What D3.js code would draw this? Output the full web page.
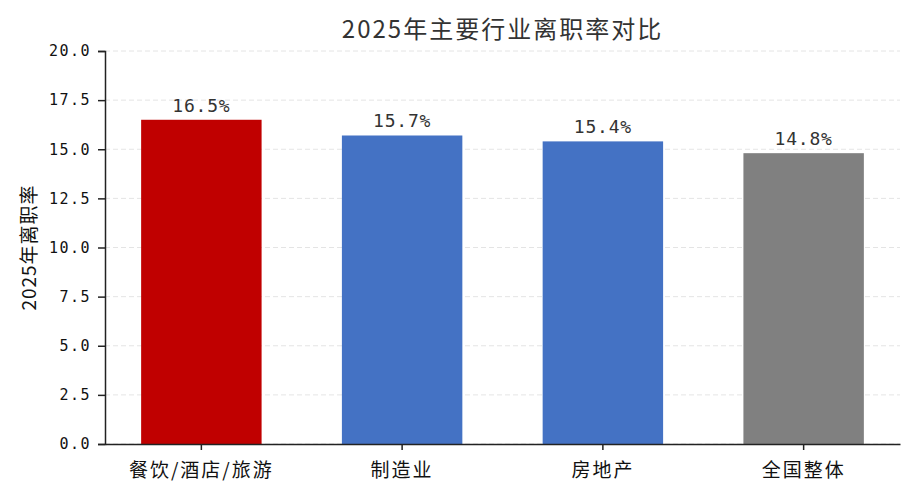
<!DOCTYPE html>
<html>
<head>
<meta charset="utf-8">
<script src="https://cdn.jsdelivr.net/npm/d3@7"></script>
<style>
  body { margin: 0; background: #fff; }
  svg text { font-family: "Noto Sans CJK SC", "DejaVu Sans", sans-serif; }
  svg text.num { font-family: "DejaVu Sans Mono", "Liberation Mono", monospace; }
</style>
</head>
<body>
<div id="chart"></div>
<script>
const categories = ["餐饮/酒店/旅游", "制造业", "房地产", "全国整体"];
const rates = [16.5, 15.7, 15.4, 14.8];
const barColors = ["#C00000", "#4472C4", "#4472C4", "#808080"];
const yTicks = [0, 2.5, 5, 7.5, 10, 12.5, 15, 17.5, 20];

const fullWidth = 915;
const fullHeight = 495;
const margin = { top: 51, right: 15, bottom: 51, left: 105 };
const width = fullWidth - margin.left - margin.right;
const height = fullHeight - margin.top - margin.bottom;

const svg = d3.select("#chart")
  .append("svg")
  .attr("width", fullWidth)
  .attr("height", fullHeight)
  .style("background-color", "#fff");

const chart = svg.append("g")
  .attr("transform", `translate(${margin.left},${margin.top})`);

const x = d3.scaleBand()
  .domain(categories)
  .range([0, width])
  .paddingInner(0.4)
  .paddingOuter(0.18);

const y = d3.scaleLinear()
  .domain([0, 20])
  .range([height, 0]);

// === Grid ===
chart.append("g")
  .selectAll("line")
  .data(yTicks)
  .enter()
  .append("line")
  .attr("x1", 0)
  .attr("x2", width)
  .attr("y1", d => y(d))
  .attr("y2", d => y(d))
  .attr("stroke", "#d8d8d8")
  .attr("stroke-opacity", 0.7)
  .attr("stroke-dasharray", "5,3")
  .attr("stroke-width", 1);

// === Bars ===
const data = categories.map((c, i) => ({ cat: c, rate: rates[i], color: barColors[i] }));

chart.selectAll("rect.bar")
  .data(data)
  .enter()
  .append("rect")
  .attr("class", "bar")
  .attr("x", d => x(d.cat))
  .attr("width", x.bandwidth())
  .attr("y", d => y(d.rate))
  .attr("height", d => height - y(d.rate))
  .attr("fill", d => d.color);

// === Value labels ===
chart.selectAll("text.value")
  .data(data)
  .enter()
  .append("text")
  .attr("class", "value num")
  .attr("x", d => x(d.cat) + x.bandwidth() / 2)
  .attr("y", d => y(d.rate) - 8)
  .attr("text-anchor", "middle")
  .style("font-size", "18px")
  .style("letter-spacing", "0.8px")
  .style("fill", "#333")
  .text(d => `${d.rate.toFixed(1)}%`);

// === Y axis ===
const yAxis = chart.append("g")
  .call(d3.axisLeft(y).tickValues(yTicks).tickFormat(d3.format(".1f")).tickSize(7).tickPadding(7));
yAxis.select(".domain").attr("stroke", "#222").attr("stroke-width", 1.5);
yAxis.selectAll(".tick line").attr("stroke", "#222").attr("stroke-width", 1.5);
yAxis.selectAll("text")
  .attr("class", "num")
  .style("font-size", "15px")
  .style("letter-spacing", "1.5px")
  .style("fill", "#111");

// === X axis ===
const xAxis = chart.append("g")
  .attr("transform", `translate(0,${height})`)
  .call(d3.axisBottom(x).tickSize(6).tickSizeOuter(0));
xAxis.select(".domain").attr("stroke", "#222").attr("stroke-width", 1.5);
xAxis.selectAll(".tick line").attr("stroke", "#222").attr("stroke-width", 1.5);
xAxis.selectAll("text")
  .attr("dy", null)
  .attr("y", 33)
  .style("font-size", "19px")
  .style("letter-spacing", "2px")
  .style("fill", "#111");

// === Y label ===
svg.append("text")
  .attr("transform", `translate(36,${margin.top + height / 2}) rotate(-90)`)
  .attr("text-anchor", "middle")
  .style("font-size", "19px")
  .style("letter-spacing", "1px")
  .style("fill", "#111")
  .text("2025年离职率");

// === Title ===
svg.append("text")
  .attr("x", margin.left + width / 2)
  .attr("y", 38)
  .attr("text-anchor", "middle")
  .style("font-size", "24px")
  .style("letter-spacing", "2px")
  .style("fill", "#333")
  .text("2025年主要行业离职率对比");
</script>
</body>
</html>
